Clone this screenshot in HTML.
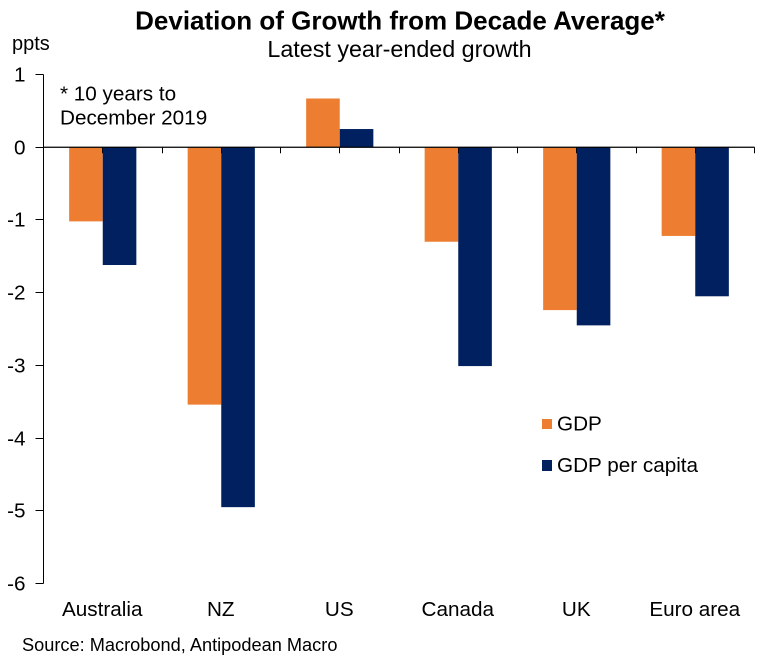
<!DOCTYPE html>
<html>
<head>
<meta charset="utf-8">
<style>
html,body{margin:0;padding:0;background:#fff;width:766px;height:662px;overflow:hidden}
svg{display:block;font-family:"Liberation Sans",Arial,sans-serif;fill:#000}
</style>
</head>
<body>
<svg id="chart" width="766" height="662" viewBox="0 0 766 662" xmlns="http://www.w3.org/2000/svg">
<rect width="766" height="662" fill="#fff"/>
<text x="400" y="29.5" text-anchor="middle" font-size="26" font-weight="bold">Deviation of Growth from Decade Average*</text>
<text x="399.5" y="57" text-anchor="middle" font-size="23.3">Latest year-ended growth</text>
<text x="12" y="50" font-size="20">ppts</text>
<text x="60" y="100.5" font-size="20.7">* 10 years to</text>
<text x="60" y="124.5" font-size="20.7">December 2019</text>
<g id="bars"></g>
<g id="axes"></g>
<rect x="542" y="419" width="10" height="10" fill="#ED7D31"/>
<text x="557" y="430.5" font-size="20.7">GDP</text>
<rect x="542" y="460" width="10" height="11" fill="#002060"/>
<text x="557" y="472" font-size="20.7">GDP per capita</text>
<text x="22" y="651" font-size="18.2">Source: Macrobond, Antipodean Macro</text>
</svg>
<script>
const categories = ["Australia", "NZ", "US", "Canada", "UK", "Euro area"];
const gdpValues = [-1.02, -3.54, 0.67, -1.30, -2.24, -1.22];
const gdpPerCapitaValues = [-1.62, -4.95, 0.25, -3.01, -2.45, -2.05];
const yTicks = [1, 0, -1, -2, -3, -4, -5, -6];

const NS = "http://www.w3.org/2000/svg";
const plotLeft = 43.5, plotRight = 754.5, yTop = 74.5, yBottom = 583.5;
const yMax = 1, yMin = -6, barWidth = 33.6;
const bandWidth = (plotRight - plotLeft) / categories.length;
function yScale(v) { return yTop + (yMax - v) * (yBottom - yTop) / (yMax - yMin); }
function xCenter(i) { return plotLeft + bandWidth * (i + 0.5); }
function make(tag, attrs, parent) {
  const el = document.createElementNS(NS, tag);
  for (const k in attrs) el.setAttribute(k, attrs[k]);
  parent.appendChild(el);
  return el;
}
const barsG = document.getElementById("bars");
const axesG = document.getElementById("axes");
function drawBar(i, v, x, color, name) {
  const y0 = yScale(0), y1 = yScale(v);
  const r = make("rect", {x: x, y: Math.min(y0, y1), width: barWidth, height: Math.abs(y1 - y0), fill: color}, barsG);
  
  
}
categories.forEach(function (c, i) {
  const cx = xCenter(i);
  drawBar(i, gdpValues[i], cx - barWidth, "#ED7D31", "bar-gdp-" + c.toLowerCase().replace(/ /g, "-"));
  drawBar(i, gdpPerCapitaValues[i], cx, "#002060", "bar-gdp-per-capita-" + c.toLowerCase().replace(/ /g, "-"));
  const t = make("text", {x: cx - 0.5, y: 616, "text-anchor": "middle", "font-size": 20.7}, axesG);
  t.textContent = c;
  
  
});
const yAxis = make("line", {x1: plotLeft, x2: plotLeft, y1: yTop, y2: yBottom, stroke: "#000", "stroke-width": 1}, axesG);


yTicks.forEach(function (v) {
  const y = Math.round(yScale(v) - 0.5) + 0.5;
  const tick = make("line", {x1: plotLeft - 8, x2: plotLeft, y1: y, y2: y, stroke: "#000", "stroke-width": 1}, axesG);
  
  
  const lab = make("text", {x: 25.5, y: y + 7, "text-anchor": "end", "font-size": 20.7}, axesG);
  lab.textContent = String(v);
  
  
});
const zeroY = yScale(0);
const xAxis = make("line", {x1: plotLeft, x2: plotRight, y1: zeroY, y2: zeroY, stroke: "#000", "stroke-width": 1.2}, axesG);


for (let i = 1; i <= categories.length * 2; i++) {
  const x = Math.round(plotLeft + i * bandWidth / 2 - 0.5) + 0.5;
  const xt = make("line", {x1: x, x2: x, y1: zeroY, y2: zeroY + 6, stroke: "#000", "stroke-width": 1}, axesG);
  
  
}
</script>
</body>
</html>
